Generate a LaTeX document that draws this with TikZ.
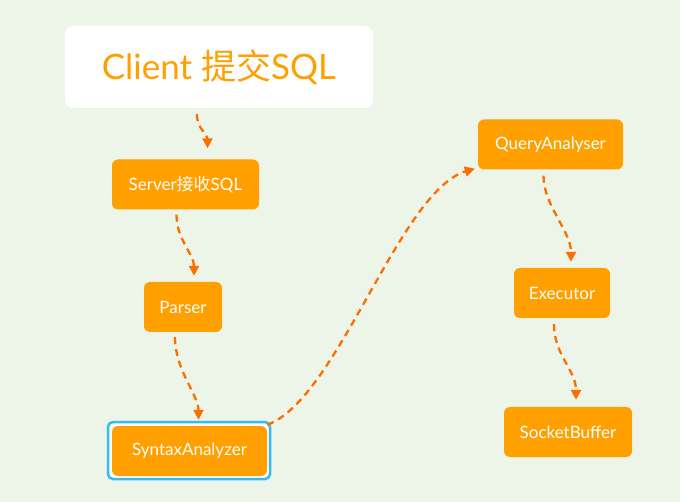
\documentclass[tikz,border=0pt]{standalone}
\usepackage{fontspec}
\setmainfont{Lato}
\newfontfamily\cjk{Noto Sans CJK SC}
\usetikzlibrary{arrows.meta}
\definecolor{bgcolor}{HTML}{EDF5E8}
\definecolor{boxorange}{HTML}{FFA000}
\definecolor{floworange}{HTML}{FF6D00}
\definecolor{selblue}{HTML}{33BBF2}
\tikzstyle{stage}=[fill=boxorange,text=white,rounded corners=6pt,inner sep=0pt,
  minimum height=50pt,font=\fontsize{17}{20}\selectfont]
\tikzstyle{client}=[fill=white,text=boxorange,rounded corners=8pt,inner sep=0pt,
  minimum width=308pt,minimum height=82pt,font=\fontsize{35}{40}\selectfont]
\tikzstyle{selected}=[draw=selblue,line width=2.5pt,fill=white,rounded corners=5pt]
\tikzstyle{flow}=[draw=floworange,line width=2.3pt,dash pattern=on 7pt off 5pt,
  -{Triangle[length=10pt,width=10pt]}]

\begin{document}
\begin{tikzpicture}[x=1pt,y=-1pt]
  \useasboundingbox[fill=bgcolor] (0,0) rectangle (680,502);
  \node[client] (submit) at (219,67) {Client {\cjk 提交}SQL};
  \node[stage,minimum width=147pt] (server) at (185.5,184.5) {Server{\cjk 接收}SQL};
  \node[stage,minimum width=78pt] (parser) at (183,307) {Parser};
  \coordinate (syntaxnw) at (112,426);
  \coordinate (syntaxse) at (267,476);
  \draw[selected] ([shift={(-4,-4)}]syntaxnw) rectangle ([shift={(3,3)}]syntaxse);
  \node[stage,minimum width=155pt] (syntax) at (189.5,451) {SyntaxAnalyzer};
  \node[stage,minimum width=145pt] (query) at (550.5,144.5) {QueryAnalyser};
  \node[stage,minimum width=96pt] (executor) at (562,293) {Executor};
  \node[stage,minimum width=128pt] (socket) at (568,432) {SocketBuffer};
  % connectors
  \draw[flow] ([shift={(-22,6)}]submit.south) .. controls +(0,16) and +(0,-16) .. ([shift={(22,-11)}]server.north);
  \draw[flow] ([shift={(-9,5)}]server.south) .. controls +(0,25) and +(0,-22) .. ([shift={(11,-6)}]parser.north);
  \draw[flow] ([shift={(-8,5)}]parser.south) .. controls +(0,33) and +(0,-25) .. ([shift={(9,-6)}]syntax.north);
  \draw[flow] ([shift={(0,-1)}]syntax.north east) .. controls +(70,-25) and +(-75,22) .. ([shift={(-3,-1)}]query.south west);
  \draw[flow] ([shift={(-7,6)}]query.south) .. controls +(0,30) and +(0,-31) .. ([shift={(9,-6)}]executor.north);
  \draw[flow] ([shift={(-8,6)}]executor.south) .. controls +(0,31) and +(0,-30) .. ([shift={(8,-7)}]socket.north);
\end{tikzpicture}
\end{document}
